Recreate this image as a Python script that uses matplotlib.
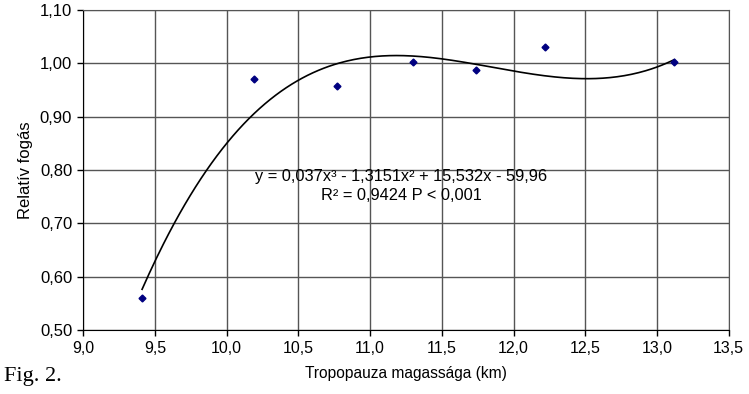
import numpy as np
import matplotlib.pyplot as plt
from matplotlib.ticker import FuncFormatter, MultipleLocator

# measured points
tropo_km = [9.41, 10.19, 10.77, 11.30, 11.74, 12.22, 13.12]
rel_catch = [0.560, 0.971, 0.958, 1.002, 0.987, 1.031, 1.003]

# cubic trend line coefficients (highest power first)
coef = [0.037, -1.3151, 15.532, -59.96]

fig = plt.figure(figsize=(7.49, 3.94), dpi=100)
ax = fig.add_axes([0.1112, 0.1624, 0.8616, 0.8122])

xs = np.linspace(min(tropo_km), max(tropo_km), 300)
ax.plot(xs, np.polyval(coef, xs), color='black', lw=1.2, zorder=3)
ax.plot(tropo_km, rel_catch, ls='none', marker='D', ms=3.5,
        color='#000080', zorder=4)

ax.set_xlim(9.0, 13.5)
ax.set_ylim(0.5, 1.1)
ax.xaxis.set_major_locator(MultipleLocator(0.5))
ax.yaxis.set_major_locator(MultipleLocator(0.1))
ax.xaxis.set_major_formatter(FuncFormatter(lambda v, p: f'{v:.1f}'.replace('.', ',')))
ax.yaxis.set_major_formatter(FuncFormatter(lambda v, p: f'{v:.2f}'.replace('.', ',')))

ax.grid(True, color='#555555', lw=1.0)
ax.set_axisbelow(True)
for s in ax.spines.values():
    s.set_color('#555555')
ax.spines['left'].set_color('black')
ax.spines['bottom'].set_color('black')
ax.tick_params(direction='out', length=4, width=1, color='black',
               labelfontfamily='Liberation Sans')
ax.tick_params(axis='x', labelsize=11.5, pad=4)
ax.tick_params(axis='y', labelsize=12, pad=4)

ax.set_ylabel('Relatív fogás', family='Liberation Sans', fontsize=12, labelpad=5)
ax.set_xlabel('Tropopauza magassága (km)', family='Liberation Sans',
              fontsize=11.2, labelpad=7)

ax.text(11.215, 0.787, 'y = 0,037x³ - 1,3151x² + 15,532x - 59,96',
        ha='center', va='center', family='Liberation Sans', fontsize=11.8)
ax.text(11.215, 0.753, 'R² = 0,9424 P < 0,001',
        ha='center', va='center', family='Liberation Sans', fontsize=11.8)

fig.text(0.006, 0.045, 'Fig. 2.', family='Liberation Serif', fontsize=16, va='center')

fig.savefig('out.png', dpi=100)
